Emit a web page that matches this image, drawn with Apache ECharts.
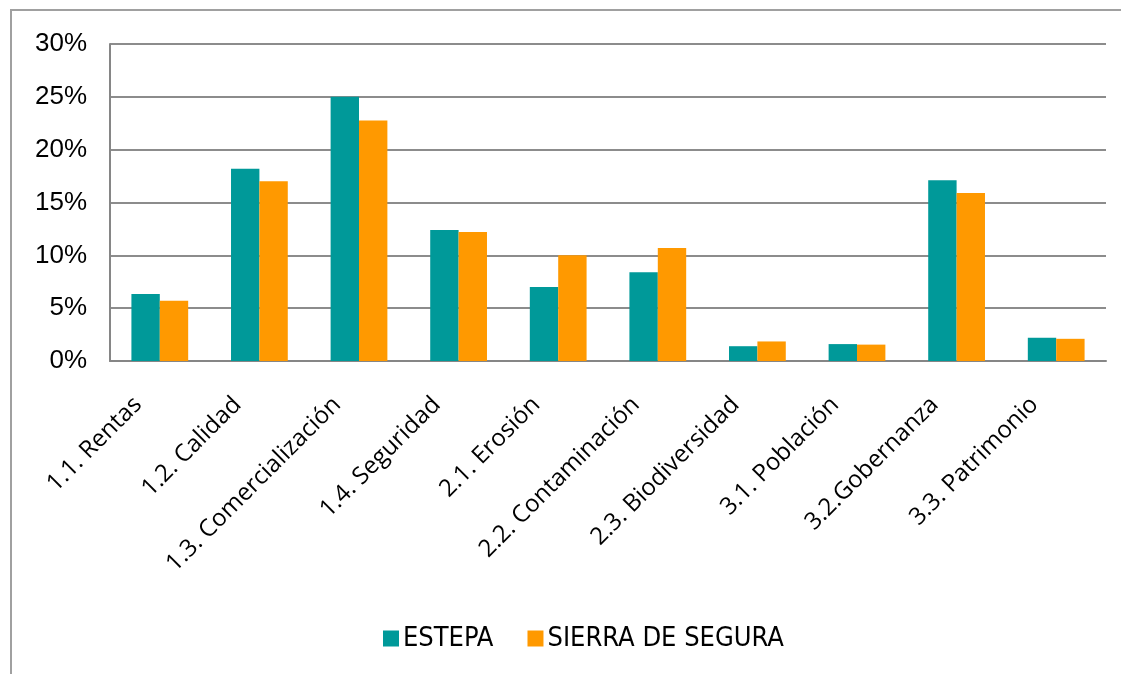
<!DOCTYPE html>
<html><head><meta charset="utf-8">
<script src="https://cdn.jsdelivr.net/npm/echarts@6/dist/echarts.min.js"></script>
<style>html,body{margin:0;padding:0;background:#fff}#c{width:1121px;height:674px}</style>
</head><body><div id="c"></div>
<script>
const categories = ['1.1. Rentas','1.2. Calidad','1.3. Comercialización','1.4. Seguridad','2.1. Erosión','2.2. Contaminación','2.3. Biodiversidad','3.1. Población','3.2.Gobernanza','3.3. Patrimonio'];
const estepa = [6.35, 18.2, 25.0, 12.4, 7.0, 8.4, 1.4, 1.6, 17.1, 2.2];
const sierra = [5.7, 17.0, 22.75, 12.2, 10.0, 10.7, 1.85, 1.55, 15.9, 2.1];
const yTicks = [0, 5, 10, 15, 20, 25, 30];

const chart = echarts.init(document.getElementById('c'), null, {renderer:'canvas'});
chart.setOption({
  animation:false,
  backgroundColor:'#fff',
  graphic:[{type:'polyline',shape:{points:[[11,700],[11,10],[1140,10]]},style:{stroke:'#a0a0a0',lineWidth:2,fill:null},silent:true}],
  grid:{left:110,right:15,top:44,bottom:313,containLabel:false},
  legend:{
    left:378, top:620, itemWidth:16, itemHeight:16, itemGap:34,
    icon:'rect',
    textStyle:{fontFamily:'"Liberation Sans Narrow","DejaVu Sans Condensed",sans-serif',fontSize:27,color:'#000',padding:[0,0,0,-1]},
    data:['ESTEPA','SIERRA DE SEGURA']
  },
  xAxis:{
    type:'category', data:categories,
    axisLine:{show:true,lineStyle:{color:'#868686',width:2}},
    axisTick:{show:false},
    axisLabel:{interval:0,rotate:45,margin:18,padding:[0,31,0,0],fontFamily:'"Open Sans", Lato, sans-serif',fontSize:24,color:'#000'}
  },
  yAxis:{
    type:'value', min:yTicks[0], max:yTicks[yTicks.length-1], interval:5,
    axisLine:{show:true,lineStyle:{color:'#868686',width:2}},
    axisTick:{show:false},
    splitLine:{lineStyle:{color:'#8c8c8c',width:2}},
    axisLabel:{margin:23,fontFamily:'"Liberation Sans",Arial,sans-serif',fontSize:26,color:'#000',formatter:v=>v+'%'}
  },
  series:[
    {name:'ESTEPA',type:'bar',data:estepa,barGap:'0%',barCategoryGap:'43%',itemStyle:{color:'#009999'}},
    {name:'SIERRA DE SEGURA',type:'bar',data:sierra,barGap:'0%',barCategoryGap:'43%',itemStyle:{color:'#FF9900'}}
  ]
});
</script></body></html>
